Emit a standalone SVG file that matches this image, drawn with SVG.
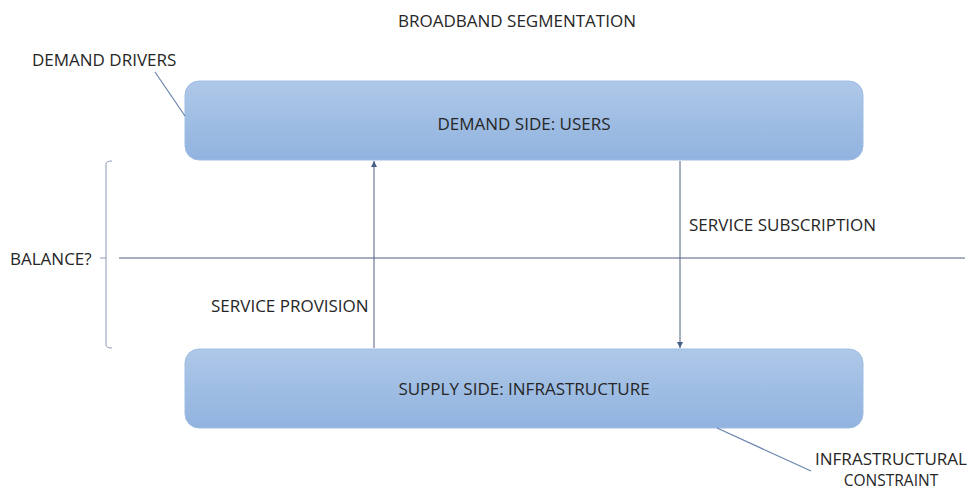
<svg xmlns="http://www.w3.org/2000/svg" width="972" height="491" viewBox="0 0 972 491">
  <defs>
    <linearGradient id="boxFill" x1="0" y1="0" x2="0" y2="1">
      <stop offset="0" stop-color="#aec8e8"/>
      <stop offset="1" stop-color="#91b3df"/>
    </linearGradient>
    <marker id="arrow" viewBox="0 0 10 10" refX="10" refY="5" markerWidth="6" markerHeight="6" orient="auto" markerUnits="userSpaceOnUse">
      <path d="M0,0 L10,5 L0,10 z" fill="#4a5f86"/>
    </marker>
  </defs>
  <style>
    text { font-family: "Open Sans", "Liberation Sans", sans-serif; font-size: 17px; fill: #262626; }
    .small { font-size: 15.5px; }
    .box { fill: url(#boxFill); stroke: #9fbde3; stroke-width: 1; }
    .conn { stroke: #4e5f80; stroke-width: 1; fill: none; }
    .call { stroke: #6a86b0; stroke-width: 1.2; fill: none; }
    .brace { stroke: #8d9bb5; stroke-width: 1; fill: none; }
  </style>
  <rect width="972" height="491" fill="#ffffff"/>

  <text x="517" y="27" text-anchor="middle">BROADBAND SEGMENTATION</text>

  <g id="demand">
    <rect class="box" x="185" y="81" width="678" height="79" rx="14"/>
    <text x="524" y="130" text-anchor="middle">DEMAND SIDE: USERS</text>
  </g>

  <g id="supply">
    <rect class="box" x="185" y="349" width="678" height="79" rx="14"/>
    <text x="524" y="395" text-anchor="middle">SUPPLY SIDE: INFRASTRUCTURE</text>
  </g>

  <g id="demand-drivers">
    <text x="32" y="66">DEMAND DRIVERS</text>
    <line class="call" x1="155" y1="72" x2="185" y2="116"/>
  </g>

  <g id="infrastructural-constraint">
    <text class="small" x="891" y="465" text-anchor="middle" textLength="152" lengthAdjust="spacingAndGlyphs">INFRASTRUCTURAL</text>
    <text class="small" x="891" y="486" text-anchor="middle">CONSTRAINT</text>
    <line class="call" x1="717" y1="428" x2="811" y2="471"/>
  </g>

  <g id="balance">
    <text x="10" y="265">BALANCE?</text>
    <path class="brace" d="M112,161 Q106,161 106,164 L106,345 Q106,348 112,348"/>
    <line class="brace" x1="100" y1="258" x2="106" y2="258"/>
    <line class="conn" x1="119" y1="258" x2="965" y2="258"/>
  </g>

  <g id="connectors">
    <line class="conn" x1="374" y1="348" x2="374" y2="161" marker-end="url(#arrow)"/>
    <text x="211" y="312">SERVICE PROVISION</text>
    <line class="conn" x1="680" y1="161" x2="680" y2="348" marker-end="url(#arrow)"/>
    <text x="689" y="231">SERVICE SUBSCRIPTION</text>
  </g>
</svg>
